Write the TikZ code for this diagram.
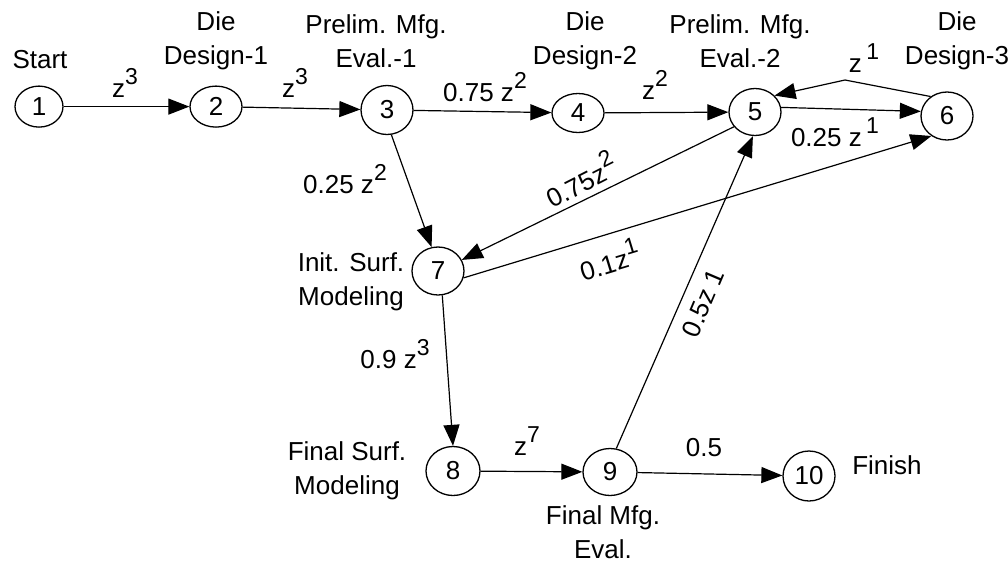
\documentclass[tikz,border=0pt]{standalone}
\usepackage{fontspec}
\setmainfont{Liberation Sans}
\usetikzlibrary{arrows.meta,shapes.geometric}
% raised exponent for the z-transform weights
\newcommand\ex[1]{\raisebox{0.48em}{\fontsize{23}{23}\selectfont #1}}
\tikzset{
  state/.style={ellipse, draw, line width=1.3pt, inner sep=0pt,
    minimum width=52pt, minimum height=47pt, fill=white,
    font=\fontsize{26}{26}\selectfont},
  lbl/.style={font=\fontsize{26}{34}\selectfont, align=center, inner sep=0pt},
  wt/.style={font=\fontsize{26}{26}\selectfont, inner sep=0pt},
  flow/.style={line width=1.2pt, -{Triangle[length=21pt,width=16pt]}},
}
\begin{document}
\begin{tikzpicture}[x=1pt, y=-1pt]
\useasboundingbox (0,0) rectangle (1008,563);

% states
\node[state, minimum width=48pt, minimum height=41pt] (n1) at (39,106.6) {1};
\node[state, minimum height=41pt] (n2) at (216,106.6) {2};
\node[state, minimum height=49pt] (n3) at (387,110) {3};
\node[state, minimum height=39pt] (n4) at (578,113) {4};
\node[state] (n5) at (755,112) {5};
\node[state, minimum height=48pt] (n6) at (947,116) {6};
\node[state, minimum height=48pt] (n7) at (438,271) {7};
\node[state, minimum width=54pt, minimum height=49pt] (n8) at (453,471) {8};
\node[state, minimum width=54pt] (n9) at (610,472) {9};
\node[state, minimum height=50pt] (n10) at (809,476) {10};

% activity names
\node[lbl] (tStart) at (40,60) {Start};
\node[lbl] (tD1) at (216,41) {Die\\Design-1};
\node[lbl] (tP1) at (376,41) {Prelim. Mfg.\\Eval.-1};
\node[lbl] (tD2) at (585,41) {Die\\Design-2};
\node[lbl] (tP2) at (740,41) {Prelim. Mfg.\\Eval.-2};
\node[lbl] (tD3) at (957,41) {Die\\Design-3};
\node[lbl] (tIS) at (351,282) {Init. Surf.\\Modeling};
\node[lbl] (tFS) at (347,471) {Final Surf.\\Modeling};
\node[lbl] (tFM) at (603,532) {Final Mfg.\\Eval.};
\node[lbl] (tFin) at (887,465) {Finish};

% transitions
\coordinate (k65) at (845,80);
\draw[flow] (n1) -- (n2);
\draw[flow] (n2) -- (n3);
\draw[flow] (n3) -- (n4);
\draw[flow] (n4) -- (n5);
\draw[flow] (n5.10) -- (n6.170);
\draw[flow] (n6.130) -- (k65) -- (n5.40);
\draw[flow] (n3.-80) -- (n7.105);
\draw[flow] (n5.-145) -- (n7.25);
\draw[flow] (n7.-15) -- (n6.-128);
\draw[flow] (n7.-80) -- (n8.north);
\draw[flow] (n8) -- (n9);
\draw[flow] (n9.75) -- (n5.-95);
\draw[flow] (n9) -- (n10);

% transition weights
\node[wt] (w12) at (125,83) {z\ex{3}};
\node[wt] (w23) at (295,83) {z\ex{3}};
\node[wt] (w34) at (485,87) {0.75 z\ex{2}};
\node[wt] (w45) at (655,85) {z\ex{2}};
\node[wt] (w65) at (864,58) {z\,\ex{1}};
\node[wt] (w56) at (835,132) {0.25 z\,\ex{1}};
\node[wt] (w37) at (345,179) {0.25 z\ex{2}};
\node[wt, rotate=27] (w57) at (580,179) {0.75z\ex{2}};
\node[wt, rotate=17] (w76) at (609,259) {0.1z\ex{1}};
\node[wt, rotate=67] (w95) at (703,303) {0.5z 1};
\node[wt] (w78) at (395,354) {0.9 z\ex{3}};
\node[wt] (w89) at (527,441) {z\ex{7}};
\node[wt] (w910) at (704,448) {0.5};
\end{tikzpicture}
\end{document}
